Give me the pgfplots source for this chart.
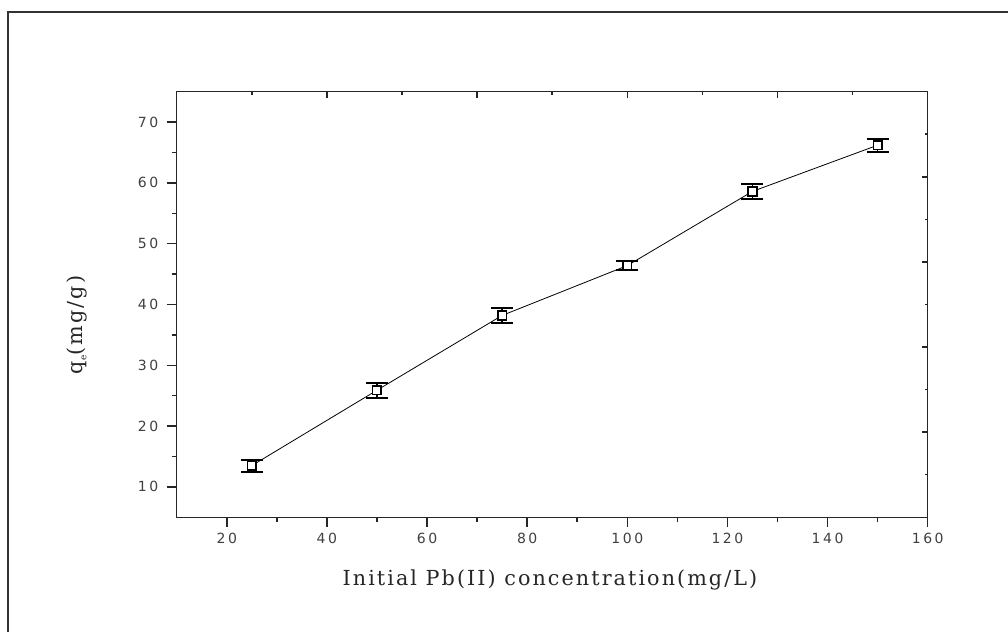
\documentclass[border=0pt]{standalone}
\usepackage{pgfplots}
\pgfplotsset{compat=1.18}
\usepackage{fontspec}
\setmainfont{DejaVu Serif}
\newfontfamily\tickfont[LetterSpace=18]{DejaVu Sans}
\newfontfamily\labfont[LetterSpace=10]{DejaVu Serif}
\begin{document}
\begin{tikzpicture}[x=1bp,y=1bp]
\useasboundingbox (0,0) rectangle (1008,632);
\draw[line width=1.5bp, black!80] (8,-5) -- (8,620) -- (1015,620);
\begin{axis}[at={(176.7bp,114.7bp)}, anchor=south west, scale only axis,
  width=751bp, height=425.6bp,
  xmin=10, xmax=160, ymin=5, ymax=75,
  xtick={20,40,...,160}, minor xtick={30,50,...,150},
  ytick={10,20,...,70}, minor ytick={15,25,...,65},
  xtick pos=left, ytick pos=left, tick align=outside,
  axis line style={line width=1.5bp, black!85},
  major tick length=10bp, minor tick length=5bp,
  every tick/.style={line width=1.5bp, black!85},
  /pgf/number format/assume math mode=true,
  tick label style={font=\tickfont\fontsize{14bp}{16bp}\selectfont, black!75},
  xticklabel style={yshift=-2bp},
  yticklabel style={xshift=-5bp},
  xlabel={Initial Pb(II) concentration(mg/L)},
  ylabel={q\raisebox{-0.35ex}{\fontsize{9bp}{10bp}\selectfont e}(mg/g)},
  label style={font=\labfont\fontsize{20.7bp}{24bp}\selectfont, black!85},
  xlabel style={at={(axis description cs:0.497,-0.1473)}, anchor=center},
  ylabel style={at={(axis description cs:-0.1328,0.452)}, anchor=center},
  clip=false,
]
\addplot[black, line width=0.8bp, mark=square*, mark size=4.3bp,
  mark options={solid, fill=white, draw=black, line width=1.6bp},
  error bars/.cd, y dir=both, y explicit,
  error bar style={line width=1.5bp, black},
  error mark options={rotate=90, mark size=11bp, line width=2bp, black}]
coordinates {
(25,13.5) +- (0,1.0)
(50,25.9) +- (0,1.2)
(75,38.2) +- (0,1.2)
(100,46.4) +- (0,0.7)
(125,58.6) +- (0,1.2)
(150,66.2) +- (0,1.1)
};
\end{axis}
\begin{axis}[at={(176.7bp,114.7bp)}, anchor=south west, scale only axis,
  width=751bp, height=425.6bp,
  xmin=10, xmax=160, ymin=5, ymax=75,
  xtick={40,70,...,160}, minor xtick={25,55,...,145},
  ytick={5,19,...,75}, minor ytick={12,26,...,68},
  xtick pos=right, ytick pos=right, tick align=inside,
  axis line style={line width=1.5bp, black!85},
  major tick length=6bp, minor tick length=3bp,
  every tick/.style={line width=1.5bp, black!85},
  xticklabels={}, yticklabels={},
]
\end{axis}
\end{tikzpicture}
\end{document}
